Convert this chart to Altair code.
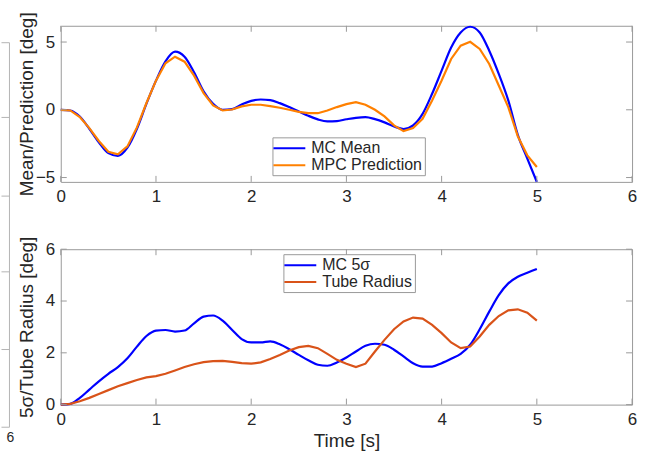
import altair as alt
import pandas as pd

# ---------------- data ----------------
time_s = [0.0, 0.1, 0.2, 0.3, 0.4, 0.5, 0.6, 0.7, 0.8, 0.9,
          1.0, 1.1, 1.2, 1.3, 1.4, 1.5, 1.6, 1.7, 1.8, 1.9,
          2.0, 2.1, 2.2, 2.3, 2.4, 2.5, 2.6, 2.7, 2.8, 2.9,
          3.0, 3.1, 3.2, 3.3, 3.4, 3.5, 3.6, 3.7, 3.8, 3.9,
          4.0, 4.1, 4.2, 4.3, 4.4, 4.5, 4.6, 4.7, 4.8, 4.9, 5.0]

mc_mean = [0.0, -0.05, -0.5, -1.4, -2.4, -3.2, -3.4, -2.8, -1.4, 0.45,
           2.15, 3.58, 4.29, 3.92, 2.77, 1.37, 0.44, 0.0, 0.05, 0.39,
           0.66, 0.76, 0.71, 0.49, 0.2, -0.12, -0.44, -0.71, -0.86, -0.83,
           -0.7, -0.59, -0.54, -0.69, -0.93, -1.23, -1.42, -1.15, -0.3, 1.18,
           2.89, 4.6, 5.71, 6.13, 5.71, 4.36, 2.65, 0.69, -1.85, -3.6, -5.32]

mpc_prediction = [0.0, -0.05, -0.54, -1.35, -2.3, -3.1, -3.28, -2.7, -1.3, 0.5,
                  2.15, 3.43, 3.92, 3.55, 2.52, 1.23, 0.32, -0.05, 0.02, 0.25,
                  0.37, 0.37, 0.27, 0.15, 0.0, -0.15, -0.25, -0.25, -0.05, 0.2,
                  0.42, 0.56, 0.37, 0.0, -0.49, -1.15, -1.57, -1.35, -0.66, 0.69,
                  2.16, 3.75, 4.73, 5.02, 4.49, 3.38, 1.79, 0.2, -1.95, -3.36, -4.22]

mc_5sigma = [0.0, 0.03, 0.26, 0.58, 0.9, 1.19, 1.45, 1.79, 2.24, 2.65,
             2.86, 2.88, 2.82, 2.86, 3.14, 3.4, 3.44, 3.24, 2.88, 2.53,
             2.4, 2.4, 2.44, 2.33, 2.14, 1.92, 1.71, 1.54, 1.5, 1.63,
             1.82, 2.05, 2.27, 2.35, 2.31, 2.12, 1.86, 1.6, 1.47, 1.47,
             1.6, 1.77, 1.96, 2.31, 2.91, 3.59, 4.23, 4.68, 4.94, 5.09, 5.24]

tube_radius = [0.0, 0.03, 0.13, 0.26, 0.41, 0.56, 0.71, 0.83, 0.95, 1.05,
               1.1, 1.19, 1.32, 1.45, 1.56, 1.64, 1.68, 1.69, 1.65, 1.6,
               1.58, 1.63, 1.76, 1.92, 2.09, 2.22, 2.27, 2.18, 1.96, 1.73,
               1.58, 1.45, 1.58, 2.05, 2.5, 2.91, 3.21, 3.36, 3.32, 3.08,
               2.76, 2.4, 2.18, 2.24, 2.63, 3.08, 3.42, 3.64, 3.68, 3.55, 3.24]

x_ticks = [0, 1, 2, 3, 4, 5, 6]
top_y_ticks = [-5, 0, 5]
bot_y_ticks = [0, 2, 4, 6]
top_names = ["MC Mean", "MPC Prediction"]
bot_names = ["MC 5σ", "Tube Radius"]
top_colors = ["#0000ff", "#ff8000"]
bot_colors = ["#0000ff", "#d95319"]

# ---------------- styling ----------------
W = 573.5
H1 = 156.7
H2 = 156.0
FONT = "Liberation Sans"
TXT = "#262626"
BOX = "#9a9a9a"
TICK = 6

xs = alt.Scale(domain=[0, 6], nice=False, zero=False)
ys_top = alt.Scale(domain=[-5.32, 6.2], nice=False, zero=False)
ys_bot = alt.Scale(domain=[0, 6], nice=False, zero=False)


def make_legend(lx, ly):
    return alt.Legend(orient="none", legendX=lx, legendY=ly, title=None,
                      symbolType="M-2,0H2", symbolSize=256, symbolStrokeWidth=2,
                      labelFont=FONT, labelFontSize=16, labelColor=TXT,
                      strokeColor=BOX, fillColor="white", padding=2,
                      rowPadding=0, symbolOffset=6, labelOffset=13)


def panel(series_a, series_b, names, colors, yscale, yticks, ytitle, H,
          legend_xy, xtitle):
    df_a = pd.DataFrame({"t": time_s, "v": series_a, "s": names[0]})
    df_b = pd.DataFrame({"t": time_s, "v": series_b, "s": names[1]})
    color = alt.Color("s:N", scale=alt.Scale(domain=names, range=colors),
                      legend=make_legend(*legend_xy))
    xaxis_kw = dict(values=x_ticks, labelPadding=7, format="d", labelFlush=False)
    if xtitle:
        xaxis_kw.update(title=xtitle, titleY=42, titleBaseline="alphabetic")
    else:
        xaxis_kw.update(title=None)
    xaxis = alt.Axis(**xaxis_kw)
    yaxis = alt.Axis(values=yticks, title=ytitle, labelPadding=6, labelFlush=False,
                     titleX=-28, titleY=H / 2, titleAngle=270,
                     titleBaseline="alphabetic", titleAlign="center", format="d")
    X = alt.X("t:Q", scale=xs, axis=xaxis)
    Y = alt.Y("v:Q", scale=yscale, axis=yaxis)
    line_a = alt.Chart(df_a).mark_line(interpolate="monotone", strokeWidth=2.2).encode(
        x=X, y=Y, color=color)
    line_b = alt.Chart(df_b).mark_line(strokeWidth=2.2).encode(
        x=X, y=Y, color=color)
    xt = pd.DataFrame({"t": x_ticks})
    yt = pd.DataFrame({"v": yticks})
    tb = alt.Chart(xt).mark_rule(color=BOX, strokeWidth=1).encode(
        x=X, y=alt.value(H), y2=alt.value(H - TICK))
    tt = alt.Chart(xt).mark_rule(color=BOX, strokeWidth=1).encode(
        x=X, y=alt.value(0), y2=alt.value(TICK))
    tl = alt.Chart(yt).mark_rule(color=BOX, strokeWidth=1).encode(
        y=Y, x=alt.value(0), x2=alt.value(TICK))
    tr = alt.Chart(yt).mark_rule(color=BOX, strokeWidth=1).encode(
        y=Y, x=alt.value(W), x2=alt.value(W - TICK))
    return [line_a, line_b, tb, tt, tl, tr]


top_layers = panel(mc_mean, mpc_prediction, top_names, top_colors, ys_top,
                   top_y_ticks, "Mean/Prediction [deg]", H1, (212.5, 112), None)
bot_layers = panel(mc_5sigma, tube_radius, bot_names, bot_colors, ys_bot,
                   bot_y_ticks, "5σ/Tube Radius [deg]", H2, (223.5, 5), "Time [s]")

# clipped edge of a neighbouring axis visible at the far left of the reference
dummy = pd.DataFrame({"a": [0]})
STRAY = "#b4b4b4"
stray = [alt.Chart(dummy).mark_rule(color=STRAY, strokeWidth=1).encode(
    x=alt.value(-51.5), x2=alt.value(-51.5), y=alt.value(17), y2=alt.value(403))]
for yy in [17, 92, 171, 247, 325, 403]:
    stray.append(alt.Chart(dummy).mark_rule(color=STRAY, strokeWidth=1).encode(
        x=alt.value(-59.5), x2=alt.value(-51.5), y=alt.value(yy), y2=alt.value(yy)))
stray.append(alt.Chart(dummy).mark_text(text="6", font=FONT, fontSize=14, color=TXT,
                                        baseline="alphabetic").encode(
    x=alt.value(-50.5), y=alt.value(418)))

top = alt.layer(*(top_layers + stray)).properties(width=W, height=H1)
bot = alt.layer(*bot_layers).properties(width=W, height=H2)

chart = alt.vconcat(top, bot, spacing=67.3, bounds="flush").resolve_scale(
    color="independent").resolve_legend(color="independent").properties(
    padding={"left": 0, "top": 10, "right": 8, "bottom": 4},
    autosize=alt.AutoSizeParams(type="pad"),
    background="white",
).configure_view(stroke=BOX, strokeWidth=1).configure_axis(
    domain=False, ticks=False, grid=False,
    labelFont=FONT, labelFontSize=17, labelColor=TXT,
    titleFont=FONT, titleFontSize=19, titleFontWeight="normal", titleColor=TXT,
)

chart.save("out.html", embed_options={"renderer": "svg", "actions": False})
